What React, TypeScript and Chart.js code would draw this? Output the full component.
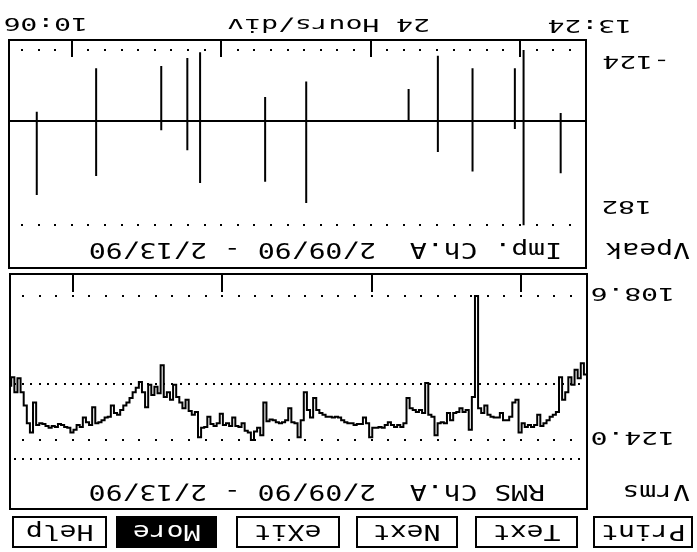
import React, { useEffect, useRef } from 'react';
import { Chart, registerables } from 'chart.js';

Chart.register(...registerables);

// ---- time axis (hours since 2/09/90 13:24) ----
const START_LABEL = '13:24';
const END_LABEL = '10:06';
const SCALE_LABEL = '24 Hours/div';
const SPAN_HOURS = 92.7;
const MIDNIGHT_HOURS = [10.6, 34.6, 58.6, 82.6];

// ---- impulse panel ----
const IMP_TITLE = 'Imp. Ch.A  2/09/90 - 2/13/90';
const IMP_UNIT = 'Vpeak';
const IMP_MIN_LABEL = '-124';
const IMP_MAX_LABEL = '182';
const impulseHours = [4.07, 10.03, 11.43, 18.23, 23.8, 28.5, 44.95, 51.55, 62.0, 64.05, 68.24, 78.7, 88.24];
const impulseLow = [-14, -124, -92, -92, -114, -56, -69, -42, -120, -110, -96, -92, -16];
const impulseHigh = [91, 182, 14, 88, 54, 0, 143, 106, 108, 51, 16, 96, 129];
const impulseRefLines = [-124, 182];

// ---- RMS panel ----
const RMS_TITLE = 'RMS Ch.A  2/09/90 - 2/13/90';
const RMS_UNIT = 'Vrms';
const RMS_MIN_LABEL = '108.6';
const RMS_MAX_LABEL = '124.0';
const RMS_STEP_HOURS = 0.5;
const rmsVolts = [
  117.0, 115.8, 117.4, 116.5, 118.1, 117.3, 118.9, 119.7, 117.3, 121.0,
  121.3, 121.5, 121.9, 122.2, 122.5, 121.3, 122.4, 122.6, 122.4, 122.6,
  122.2, 123.2, 119.7, 120.0, 121.5, 121.9, 121.9, 121.1, 121.6, 121.6,
  121.5, 121.3, 120.3, 121.1, 120.6, 108.6, 119.4, 122.9, 120.8, 121.0,
  120.6, 121.0, 121.1, 121.9, 121.1, 122.2, 122.1, 122.2, 123.5, 121.5,
  121.3, 117.9, 121.1, 120.8, 121.0, 120.8, 120.6, 119.5, 122.2, 122.6,
  122.4, 122.6, 122.4, 122.1, 122.4, 122.7, 122.6, 122.7, 122.7, 123.7,
  122.2, 121.6, 122.3, 122.3, 122.4, 122.2, 122.2, 122.1, 121.9, 121.6,
  121.5, 121.6, 121.5, 121.5, 121.3, 121.1, 120.8, 119.5, 121.6, 120.8,
  118.9, 121.9, 123.7, 122.2, 122.1, 120.6, 121.9, 122.1, 122.2, 122.1,
  121.9, 121.8, 122.0, 120.0, 123.5, 122.7, 123.1, 124.0, 123.2, 123.0,
  122.2, 122.6, 122.5, 121.6, 122.5, 122.2, 122.4, 121.2, 122.2, 122.5,
  122.3, 121.5, 122.6, 122.7, 123.7, 121.0, 121.3, 120.9, 119.7, 120.6,
  120.0, 119.4, 118.1, 119.7, 118.9, 119.4, 116.0, 119.0, 118.3, 119.2,
  118.1, 120.5, 118.9, 117.8, 118.4, 118.9, 119.5, 120.0, 120.3, 120.8,
  121.3, 121.1, 120.3, 121.5, 121.6, 121.9, 122.1, 122.2, 120.5, 122.4,
  122.1, 121.6, 122.6, 122.4, 122.9, 123.2, 122.7, 122.6, 122.4, 122.3,
  122.6, 122.5, 122.7, 122.5, 122.3, 122.2, 122.4, 120.0, 123.2, 122.2,
  120.3, 118.9, 117.4, 118.9, 117.3, 118.3,
];
const rmsRefLines = [108.6, 118.0, 124.0, 126.0];
const rmsRefDense = [false, true, false, true];

// ---- menu ----
const menuButtons = ['Print', 'Text', 'Next', 'eXit', 'More', 'Help'];
const menuActive = 'More';

const FONT = '"DejaVu Sans Mono", "Liberation Mono", monospace';
const PITCH = 16.9;

type DotLine = { value: number; step: number };

function makeDecor(lines: DotLine[], tickLen: number) {
  return {
    id: 'decor',
    beforeDatasetsDraw(chart: any) {
      const { ctx, chartArea, scales } = chart;
      const x = scales.x;
      const y = scales.y;
      ctx.save();
      ctx.fillStyle = '#000';
      for (const line of lines) {
        const py = Math.round(y.getPixelForValue(line.value));
        let h = MIDNIGHT_HOURS[0] % line.step;
        for (; h < SPAN_HOURS; h += line.step) {
          const px = Math.round(x.getPixelForValue(h));
          ctx.fillRect(px - 1, py - 1, 2, 2);
        }
      }
      for (const h of MIDNIGHT_HOURS) {
        const px = Math.round(x.getPixelForValue(h));
        ctx.fillRect(px - 1, chartArea.bottom - tickLen, 2, tickLen);
      }
      ctx.restore();
    },
  };
}

function baseOptions(yMin: number, yMax: number) {
  return {
    animation: false,
    responsive: false,
    maintainAspectRatio: false,
    events: [],
    layout: { padding: 0 },
    plugins: { legend: { display: false }, tooltip: { enabled: false } },
    scales: {
      x: { type: 'linear', min: 0, max: SPAN_HOURS, display: false },
      y: { type: 'linear', min: yMin, max: yMax, display: false },
    },
  } as any;
}

function Label({ text, left, centerY, big, color }: { text: string; left: number; centerY: number; big?: boolean; color?: string }) {
  const size = big ? 21 : 18;
  const sx = PITCH / (0.602 * size);
  return (
    <div
      style={{
        position: 'absolute',
        left,
        top: centerY - 0.4815 * size,
        fontFamily: FONT,
        fontSize: size,
        lineHeight: size + 'px',
        whiteSpace: 'pre',
        transform: `scaleX(${sx})`,
        transformOrigin: '0 0',
        color: color || '#000',
      }}
    >
      {text}
    </div>
  );
}

const buttonBoxes = [
  [4, 100],
  [119, 103],
  [239, 102],
  [357, 104],
  [480, 101],
  [590, 95],
];

export default function App() {
  const rmsRef = useRef<HTMLCanvasElement>(null);
  const impRef = useRef<HTMLCanvasElement>(null);

  useEffect(() => {
    const rmsPoints = rmsVolts.map((v, i) => ({ x: i * RMS_STEP_HOURS, y: v }));
    const rmsDots: DotLine[] = rmsRefLines.map((v, i) => ({ value: v, step: rmsRefDense[i] ? 24 / 18 : 24 / 9 }));
    const rmsChart = new Chart(rmsRef.current as HTMLCanvasElement, {
      type: 'line',
      data: {
        datasets: [
          {
            data: rmsPoints,
            borderColor: '#000',
            borderWidth: 2,
            pointRadius: 0,
            stepped: true,
            fill: false,
          } as any,
        ],
      },
      options: baseOptions(106.247, 131.379),
      plugins: [makeDecor(rmsDots, 18)],
    });

    const impPoints: any[] = [];
    impulseHours.forEach((h, i) => {
      impPoints.push({ x: h, y: impulseLow[i] });
      impPoints.push({ x: h, y: impulseHigh[i] });
      impPoints.push({ x: h, y: null });
    });
    const impDots: DotLine[] = impulseRefLines.map((v) => ({ value: v, step: 24 / 9 }));
    const impChart = new Chart(impRef.current as HTMLCanvasElement, {
      type: 'line',
      data: {
        datasets: [
          {
            data: [{ x: 0, y: 0 }, { x: SPAN_HOURS, y: 0 }],
            borderColor: '#000',
            borderWidth: 2,
            pointRadius: 0,
            fill: false,
          } as any,
          {
            data: impPoints,
            borderColor: '#000',
            borderWidth: 2,
            pointRadius: 0,
            spanGaps: false,
            fill: false,
          } as any,
        ],
      },
      options: baseOptions(-141.3, 256.5),
      plugins: [makeDecor(impDots, 17)],
    });

    return () => {
      rmsChart.destroy();
      impChart.destroy();
    };
  }, []);

  const frame = (left: number, top: number, width: number, height: number) => (
    <div
      style={{
        position: 'absolute',
        left,
        top,
        width,
        height,
        border: '2px solid #000',
        boxSizing: 'border-box',
        pointerEvents: 'none',
      }}
    />
  );

  return (
    <div
      style={{
        position: 'fixed',
        left: 0,
        top: 0,
        width: 697,
        height: 552,
        background: '#fff',
        overflow: 'hidden',
        transform: 'rotate(180deg)',
      }}
    >
      {/* menu buttons */}
      {menuButtons.map((b, i) => {
        const [l, w] = buttonBoxes[i];
        const active = b === menuActive;
        return (
          <div
            key={b}
            style={{
              position: 'absolute',
              left: l,
              top: 4,
              width: w,
              height: 32,
              border: '2px solid #000',
              boxSizing: 'border-box',
              background: active ? '#000' : '#fff',
              display: 'flex',
              alignItems: 'center',
              justifyContent: 'center',
            }}
          >
            <span
              style={{
                display: 'inline-block',
                fontFamily: FONT,
                fontSize: 21,
                lineHeight: '21px',
                color: active ? '#fff' : '#000',
                transform: `scaleX(${PITCH / (0.602 * 21)})`,
                whiteSpace: 'pre',
              }}
            >
              {b}
            </span>
          </div>
        );
      })}

      {/* RMS panel */}
      <canvas ref={rmsRef} width={577} height={235} style={{ position: 'absolute', left: 110, top: 43, display: 'block' }} />
      {frame(109, 42, 579, 237)}
      <Label text={RMS_UNIT} left={7} centerY={60} big />
      <Label text={RMS_TITLE} left={152} centerY={60} big />
      <Label text={RMS_MAX_LABEL} left={22} centerY={113.5} />
      <Label text={RMS_MIN_LABEL} left={22} centerY={258} />

      {/* impulse panel */}
      <canvas ref={impRef} width={577} height={228} style={{ position: 'absolute', left: 111, top: 284, display: 'block' }} />
      {frame(110, 283, 579, 230)}
      <Label text={IMP_UNIT} left={7} centerY={302} big />
      <Label text={IMP_TITLE} left={135} centerY={302} big />
      <Label text={IMP_MAX_LABEL} left={45} centerY={345} />
      <Label text={IMP_MIN_LABEL} left={27} centerY={490} />

      {/* time axis labels */}
      <Label text={START_LABEL} left={65} centerY={525.5} />
      <Label text={SCALE_LABEL} left={267} centerY={527} />
      <Label text={END_LABEL} left={609} centerY={527.5} />
    </div>
  );
}
